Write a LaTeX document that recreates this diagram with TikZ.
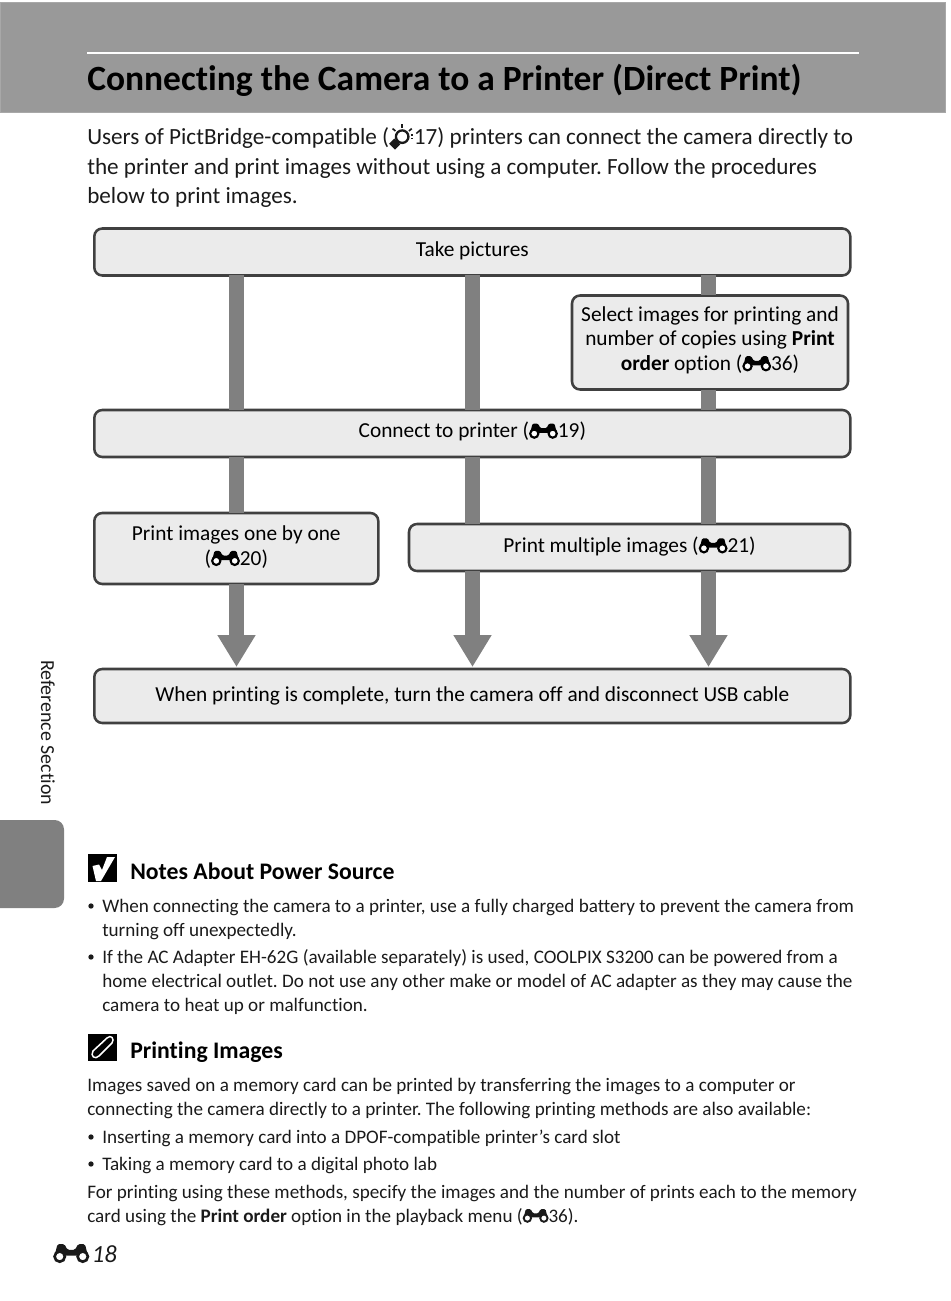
\documentclass[tikz,border=0pt]{standalone}
\usepackage{fontspec}
\usepackage{xcolor}
\setmainfont{Carlito}[Ligatures=NoCommon]
\usetikzlibrary{arrows.meta}
\definecolor{bandgray}{HTML}{999999}
\definecolor{bandedge}{HTML}{A8A8A8}
\definecolor{bargray}{HTML}{808080}
\definecolor{boxfill}{HTML}{EBEBEB}
\definecolor{boxline}{HTML}{404040}
\definecolor{inktext}{HTML}{1A1A1A}
\newcommand{\binoc}{\tikz[baseline=0pt,x=1.2em,y=1.2em,line width=.1em]{
    \fill[rounded corners=.06em] (.04,.2) -- (.13,.56) -- (.35,.56) -- (.44,.38) -- (.68,.38) -- (.77,.56) -- (.99,.56) -- (1.08,.2) -- cycle;
    \filldraw[fill=white] (.2,.17) circle (.16);
    \filldraw[fill=white] (.92,.17) circle (.16);
    }}
\newcommand{\bulb}{\tikz[baseline=0pt,x=1em,y=1em,line width=.1em]{
    \draw (.6,.36) circle (.27);
    \fill[rotate around={45:(.28,.04)}] (.12,-.14) rectangle (.44,.22);
    \foreach \a in {40,90,140}
    \draw[line width=.07em] (.6,.36) ++(\a:.38) -- ++(\a:.16);
    \draw[line width=.07em] (.97,.42) -- (1.07,.42) (.97,.28) -- (1.07,.28);
    }}
\tikzset{
    titletxt/.style={anchor=base west, inner sep=0, font=\fontsize{26.6}{30}\selectfont\bfseries, text=black},
    introtxt/.style={anchor=base west, inner sep=0, font=\fontsize{17.37}{20}\selectfont, text=inktext},
    smalltxt/.style={anchor=base west, inner sep=0, font=\fontsize{14.34}{17}\selectfont, text=inktext},
    headtxt/.style={anchor=base west, inner sep=0, font=\fontsize{17.8}{18}\selectfont\bfseries, text=black},
    dotbullet/.style={circle, fill=inktext, inner sep=0, minimum size=4pt},
    stepbox/.style={anchor=north west, draw=boxline, fill=boxfill, line width=1.9pt, rounded corners=6pt, outer sep=0,
        inner sep=0, align=center, font=\fontsize{16}{18.5}\selectfont, text=black},
    bar/.style={draw=bargray, line width=11.25pt},
    flow/.style={bar, -{Triangle[width=27pt,length=24pt]}, shorten >=1.5pt},
}
\begin{document}
\frenchspacing
\begin{tikzpicture}[x=0.75pt, y=-0.75pt]
    \useasboundingbox (0,0) rectangle (950,1301);
    % page furniture
    \filldraw[fill=bandgray, draw=bandedge, line width=.6pt] (0,2) rectangle (945,112);
    \draw[white, line width=1pt] (87,53) -- (859,53);
    \fill[bargray] (0,820) [rounded corners=7pt] -- (64,820) -- (64,908) [sharp corners] -- (0,908) -- cycle;
    \node[titletxt] (title) at (87,91) {Connecting the Camera to a Printer (Direct Print)};
    \node[smalltxt, font=\fontsize{14.9}{17}\selectfont, rotate=-90, anchor=base west] (section) at (41,660) {Reference Section};
    % intro
    \node[introtxt] (introA) at (87,145) {Users of PictBridge-compatible (\bulb17) printers can connect the camera directly to};
    \node[introtxt] (introB) at (87,175) {the printer and print images without using a computer. Follow the procedures};
    \node[introtxt] (introC) at (87,204) {below to print images.};
    % flow chart
    \coordinate (colA) at (236.5,0);
    \coordinate (colB) at (472.5,0);
    \coordinate (colC) at (708.5,0);
    \node[stepbox, minimum width=756*0.75pt, minimum height=47*0.75pt] (take) at (94.3,228.5) {\raisebox{4.5pt}{Take pictures}};
    \node[stepbox, minimum width=276*0.75pt, minimum height=94*0.75pt] (select) at (572,295.5) {Select images for printing and\\number of copies using \textbf{Print}\\\textbf{order} option (\binoc36)\rule[-6pt]{0pt}{1pt}};
    \node[stepbox, minimum width=756*0.75pt, minimum height=47*0.75pt] (connect) at (94.3,410) {\raisebox{5pt}{Connect to printer (\binoc19)}};
    \node[stepbox, minimum width=284*0.75pt, minimum height=71*0.75pt] (one) at (94.3,513) {Print images one by one\\(\binoc20)\rule[-4.5pt]{0pt}{1pt}};
    \node[stepbox, minimum width=441*0.75pt, minimum height=47*0.75pt] (multi) at (409,524) {\raisebox{4pt}{Print multiple images (\binoc21)}};
    \node[stepbox, minimum width=756*0.75pt, minimum height=54*0.75pt] (done) at (94.3,669) {\raisebox{-2.2pt}{When printing is complete, turn the camera off and disconnect USB cable}};
    \draw[bar] (take.south -| colA) -- (connect.north -| colA);
    \draw[bar] (take.south -| colB) -- (connect.north -| colB);
    \draw[bar] (take.south -| colC) -- (select.north -| colC);
    \draw[bar] (select.south -| colC) -- (connect.north -| colC);
    \draw[bar] (connect.south -| colA) -- (one.north -| colA);
    \draw[bar] (connect.south -| colB) -- (multi.north -| colB);
    \draw[bar] (connect.south -| colC) -- (multi.north -| colC);
    \draw[flow] (one.south -| colA) -- (done.north -| colA);
    \draw[flow] (multi.south -| colB) -- (done.north -| colB);
    \draw[flow] (multi.south -| colC) -- (done.north -| colC);
    % notes about power source
    \fill[black] (88,854) rectangle (116.5,882);
    \fill[white] (92.5,866) -- (99,864.5) -- (102,870) -- (107,857) -- (115,857) -- (101,881) -- (96,881) -- cycle;
    \node[headtxt] (noteshead) at (130,879) {Notes About Power Source};
    \node[dotbullet] (bulletA) at (91,906) {};
    \node[smalltxt] (noteA) at (102,912) {When connecting the camera to a printer, use a fully charged battery to prevent the camera from};
    \node[smalltxt] (noteB) at (102,936) {turning off unexpectedly.};
    \node[dotbullet] (bulletB) at (91,957) {};
    \node[smalltxt] (noteC) at (102,963) {If the AC Adapter EH-62G (available separately) is used, COOLPIX S3200 can be powered from a};
    \node[smalltxt] (noteD) at (102,987) {home electrical outlet. Do not use any other make or model of AC adapter as they may cause the};
    \node[smalltxt] (noteE) at (102,1011) {camera to heat up or malfunction.};
    % printing images
    \fill[black] (88,1034) rectangle (116.5,1061);
    \draw[white, line width=1.1pt, line cap=round] (94,1050) -- (107,1038) .. controls (111,1034) and (115,1039) .. (112,1043) -- (99,1056) .. controls (95,1060) and (90,1056) .. (93,1051) -- (105,1040);
    \node[headtxt] (printhead) at (130,1058) {Printing Images};
    \node[smalltxt] (printA) at (87,1091) {Images saved on a memory card can be printed by transferring the images to a computer or};
    \node[smalltxt] (printB) at (87,1115) {connecting the camera directly to a printer. The following printing methods are also available:};
    \node[dotbullet] (bulletC) at (91,1137) {};
    \node[smalltxt] (printC) at (102,1143) {Inserting a memory card into a DPOF-compatible printer’s card slot};
    \node[dotbullet] (bulletD) at (91,1164) {};
    \node[smalltxt] (printD) at (102,1170) {Taking a memory card to a digital photo lab};
    \node[smalltxt] (printE) at (87,1198) {For printing using these methods, specify the images and the number of prints each to the memory};
    \node[smalltxt] (printF) at (87,1222) {card using the \textbf{Print order} option in the playback menu (\binoc36).};
    \node[introtxt, font=\fontsize{20}{24}\selectfont] (footer) at (53,1262) {\binoc\textit{\fontsize{18.5}{24}\selectfont\hspace{2pt}18}};
\end{tikzpicture}
\end{document}
